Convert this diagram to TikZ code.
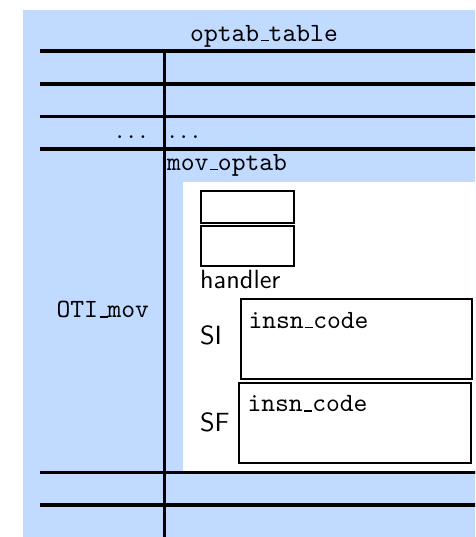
\documentclass[tikz,border=0pt]{standalone}
\definecolor{bgblue}{RGB}{193,218,255}
\newcommand{\usc}{\leavevmode\kern.06em\vbox{\hrule width.3em}}
\newcommand{\rdots}{.\kern.1667em.\kern.1667em.\kern.1667em}
\begin{document}
\begin{tikzpicture}[x=0.38pt,y=-0.38pt,
  rule/.style={line width=1.2pt},
  cellbox/.style={draw,line width=0.8pt,fill=white},
  ttlabel/.style={font=\ttfamily,inner sep=0pt},
  sflabel/.style={font=\sffamily,inner sep=0pt},
  rmlabel/.style={font=\rmfamily,inner sep=0pt}]
\useasboundingbox (0,0) rectangle (475,537);
\clip (0,0) rectangle (475,537);
% backgrounds
\fill[bgblue] (22.7,10) rectangle (490,550);
\fill[white] (183.3,181.7) rectangle (490,471.5);
% table rules
\foreach \yy in {51,84,116.3,149,472.7,505}
  \draw[rule] (40,\yy) -- (490,\yy);
\draw[rule] (164.7,51) -- (164.7,550);
% boxes
\draw[cellbox] (200.7,190.7) rectangle (294,222.7);
\draw[cellbox] (200.7,225.7) rectangle (294,265.7);
\draw[cellbox] (240.7,299.3) rectangle (471.7,379.3);
\draw[cellbox] (239,382.7) rectangle (470.7,463.3);
% texts
\node[ttlabel,anchor=base] (title) at (264,41.3) {optab\usc table};
\node[rmlabel,anchor=base west] (dotsl) at (115.5,138) {\rdots};
\node[rmlabel,anchor=base west] (dotsr) at (168,138) {\rdots};
\node[ttlabel,anchor=base west] (movoptab) at (166.5,170) {mov\usc optab};
\node[sflabel,anchor=base west] (handler) at (199.5,288) {handler};
\node[ttlabel,anchor=base east] (otimov) at (149.5,317.5) {OTI\usc mov};
\node[sflabel,anchor=base west] (si) at (199.5,344.5) {SI};
\node[ttlabel,anchor=base west] (insn1) at (248,328) {insn\usc code};
\node[sflabel,anchor=base west] (sf) at (199.5,431) {SF};
\node[ttlabel,anchor=base west] (insn2) at (247,411.5) {insn\usc code};
\end{tikzpicture}
\end{document}
